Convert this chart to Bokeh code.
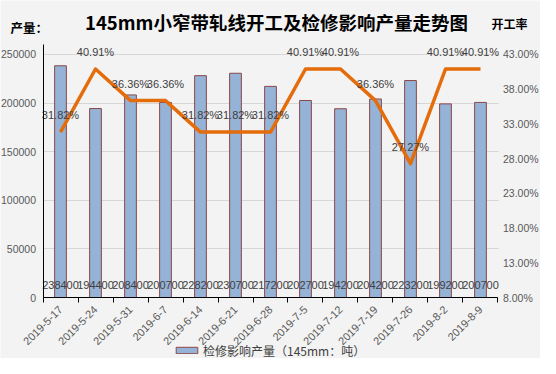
import math
from bokeh.plotting import figure
from bokeh.models import (FactorRange, Range1d, LinearAxis, CategoricalAxis, FixedTicker,
                          PrintfTickFormatter, BasicTickFormatter, Label, Legend, LegendItem,
                          ColumnDataSource)
from bokeh.core.properties import value
from bokeh.embed import file_html
from bokeh.resources import INLINE

# ---- data ----
dates = ["2019-5-17", "2019-5-24", "2019-5-31", "2019-6-7", "2019-6-14", "2019-6-21",
         "2019-6-28", "2019-7-5", "2019-7-12", "2019-7-19", "2019-7-26", "2019-8-2", "2019-8-9"]
output_loss = [238400, 194400, 208400, 200700, 228200, 230700, 217200,
               202700, 194200, 204200, 223200, 199200, 200700]
op_rate = [31.82, 40.91, 36.36, 36.36, 31.82, 31.82, 31.82,
           40.91, 40.91, 36.36, 27.27, 40.91, 40.91]
left_ticks = [0, 50000, 100000, 150000, 200000, 250000]
right_ticks = [8, 13, 18, 23, 28, 33, 38, 43]

title_text = "145mm小窄带轧线开工及检修影响产量走势图"
left_title = "产量："
right_title = "开工率"
legend_text = "检修影响产量（145mm：吨）"

BG = "#f3f3f3"
TXT = "#404040"
TICK = "#595959"
GRID = "#d6d6d6"
NUMFONT = "Liberation Sans"
CJK = "Noto Sans CJK SC"

W, H = 540, 358
CAT_PAD = 1.2143      # empty space left/right of the categories, in category widths
TOP_PAD = 0.2222      # room above the top tick (titles), fraction of axis span
BOTTOM_PAD = 0.251    # room below zero (dates, legend), fraction of axis span
AXIS_TOP = 0.041      # how far the left axis line rises above the top tick

src = ColumnDataSource(dict(
    x=dates, y=output_loss, rate=op_rate,
    base=[0] * len(dates),
    ylab=[str(v) for v in output_loss],
    rlab=["%.2f%%" % r for r in op_rate],
))

n = len(dates)
lspan = left_ticks[-1] - left_ticks[0]
rspan = right_ticks[-1] - right_ticks[0]
p = figure(width=W, height=H, output_backend="svg", toolbar_location=None,
           x_range=FactorRange(factors=dates, range_padding=CAT_PAD,
                               range_padding_units="absolute"),
           y_range=Range1d(left_ticks[0] - lspan * BOTTOM_PAD, left_ticks[-1] + lspan * TOP_PAD),
           x_axis_location=None, y_axis_location=None,
           min_border=0, min_border_left=0, min_border_right=0,
           min_border_top=0, min_border_bottom=0)
p.background_fill_color = BG
p.border_fill_color = BG
p.outline_line_color = None
p.extra_y_ranges = {"rate": Range1d(right_ticks[0] - rspan * BOTTOM_PAD,
                                    right_ticks[-1] + rspan * TOP_PAD)}
p.xgrid.visible = False
p.ygrid.visible = False

plot_px = W * n / (n + 2 * CAT_PAD)   # pixel width of the category region

# horizontal grid lines, drawn as long inward ticks under the bars
gaxis = LinearAxis(ticker=FixedTicker(ticks=left_ticks), fixed_location=0, level="underlay")
gaxis.axis_line_color = None
gaxis.major_tick_line_color = GRID
gaxis.major_tick_line_width = 1
gaxis.minor_tick_line_color = None
gaxis.major_tick_in = int(round(plot_px))
gaxis.major_tick_out = 0
gaxis.major_label_overrides = {t: "" for t in left_ticks}
gaxis.major_label_text_font_size = "1px"
p.add_layout(gaxis, "left")

# left axis
ly = LinearAxis(ticker=FixedTicker(ticks=left_ticks), fixed_location=0,
                formatter=BasicTickFormatter(use_scientific=False),
                bounds=(left_ticks[0], left_ticks[-1] + lspan * AXIS_TOP))
ly.axis_line_color = "black"
ly.axis_line_width = 1
ly.major_tick_line_color = None
ly.minor_tick_line_color = None
ly.major_tick_out = 0
ly.major_tick_in = 0
ly.major_label_standoff = 7
ly.major_label_text_font = NUMFONT
ly.major_label_text_font_size = "10.5px"
ly.major_label_text_color = TICK
p.add_layout(ly, "left")

# right axis
ry = LinearAxis(y_range_name="rate", ticker=FixedTicker(ticks=right_ticks), fixed_location=n,
                formatter=PrintfTickFormatter(format="%.2f%%"))
ry.axis_line_color = None
ry.major_tick_line_color = None
ry.minor_tick_line_color = None
ry.major_tick_out = 0
ry.major_tick_in = 0
ry.major_label_standoff = 5
ry.major_label_text_font = NUMFONT
ry.major_label_text_font_size = "10.5px"
ry.major_label_text_color = TICK
p.add_layout(ry, "right")

# bottom axis line with ticks on the category boundaries
bounds = list(range(n + 1))
tx = LinearAxis(ticker=FixedTicker(ticks=bounds), fixed_location=0, bounds=(0, n))
tx.axis_line_color = "black"
tx.major_tick_line_color = "black"
tx.minor_tick_line_color = None
tx.major_tick_out = 5
tx.major_tick_in = 0
tx.major_label_overrides = {b: "" for b in bounds}
tx.major_label_text_font_size = "1px"
tx.major_label_standoff = 0
p.add_layout(tx, "below")

# date labels
cx = CategoricalAxis(fixed_location=0)
cx.axis_line_color = None
cx.major_tick_line_color = None
cx.major_tick_out = 0
cx.major_tick_in = 0
cx.major_label_orientation = math.pi / 4
cx.major_label_standoff = 10
cx.major_label_text_font = NUMFONT
cx.major_label_text_font_size = "11px"
cx.major_label_text_color = TICK
p.add_layout(cx, "below")

# bars
bars = p.vbar(x="x", top="y", width=0.335, source=src,
              fill_color="#95B3D7", line_color="#8C4646", line_width=1)

# line
p.line(x="x", y="rate", source=src, y_range_name="rate",
       line_color="#E46C0A", line_width=3.5, line_join="round")

# bar value labels
p.text(x="x", y="base", text="ylab", source=src, y_offset=-13,
       text_align="center", text_baseline="middle",
       text_font=value(NUMFONT), text_font_size="11px", text_color=TXT)

# rate labels
p.text(x="x", y="rate", text="rlab", source=src, y_range_name="rate", y_offset=-17,
       text_align="center", text_baseline="middle",
       text_font=value(NUMFONT), text_font_size="11px", text_color=TXT)

# titles (screen units from the bottom-left of the frame, which fills the canvas)
p.add_layout(Label(x=276, y=H - 21, x_units="screen", y_units="screen", text=title_text,
                   text_align="center", text_baseline="middle", text_font=CJK,
                   text_font_size="18.5px", text_font_style="bold", text_color="black"))
p.add_layout(Label(x=10, y=H - 27, x_units="screen", y_units="screen", text=left_title,
                   text_align="left", text_baseline="middle", text_font=CJK,
                   text_font_size="12.5px", text_font_style="bold", text_color="black"))
p.add_layout(Label(x=491, y=H - 23, x_units="screen", y_units="screen", text=right_title,
                   text_align="left", text_baseline="middle", text_font=CJK,
                   text_font_size="12px", text_font_style="bold", text_color="black"))

legend = Legend(items=[LegendItem(label=legend_text, renderers=[bars])],
                location=(173, -1), orientation="horizontal",
                padding=0, margin=0, spacing=0,
                glyph_width=27, glyph_height=8, label_standoff=3, label_height=18,
                label_text_font=CJK, label_text_font_size="12px", label_text_color=TXT,
                border_line_color=None, background_fill_alpha=0)
p.add_layout(legend, "center")

open("out.html", "w").write(file_html(p, INLINE))
